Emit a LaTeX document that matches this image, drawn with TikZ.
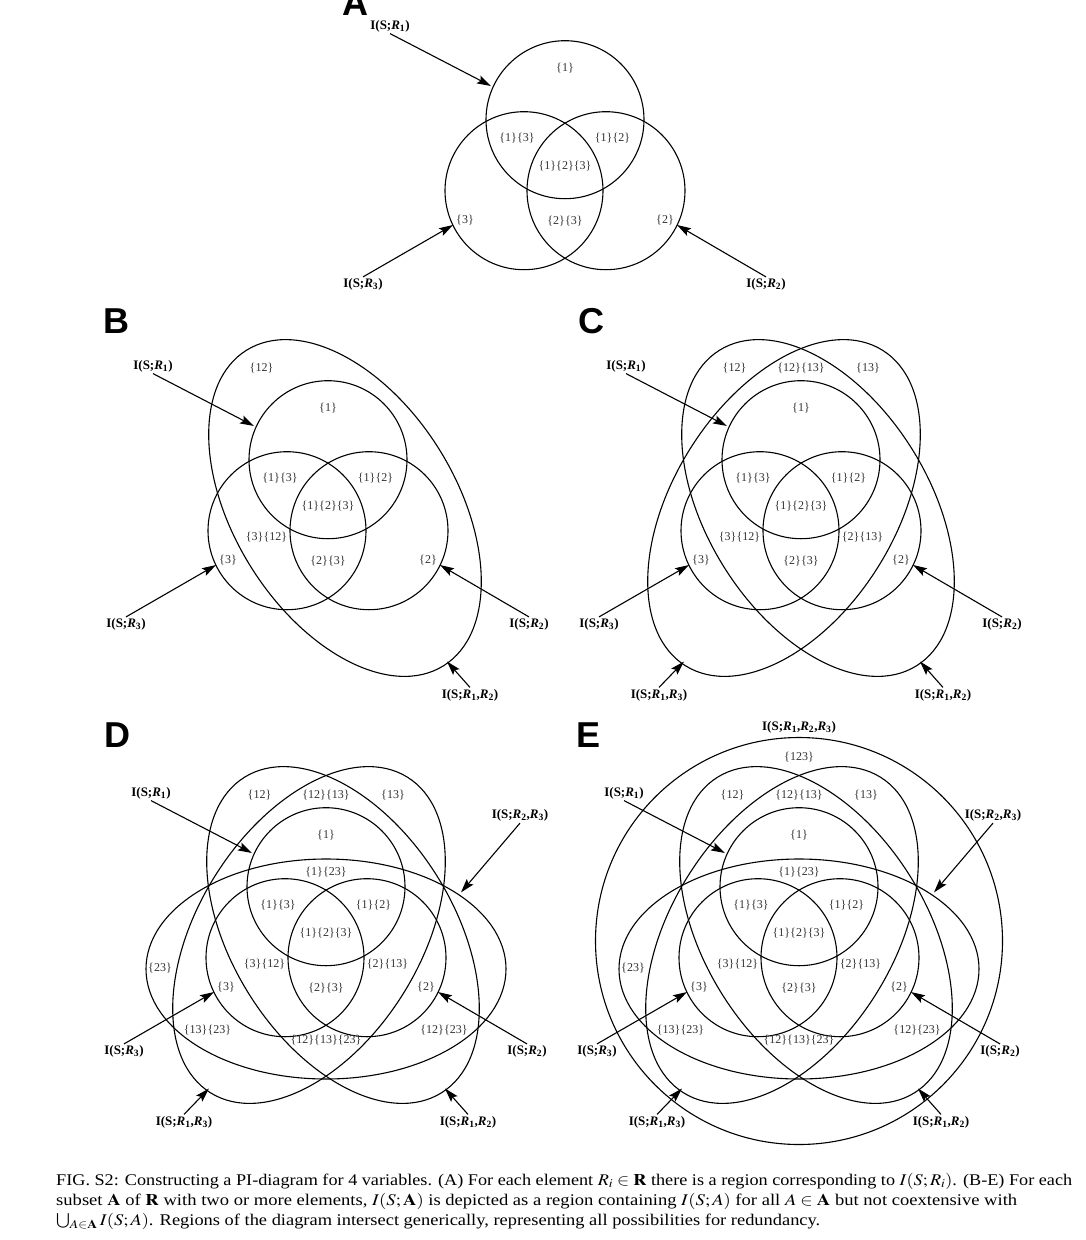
\documentclass[tikz,border=0pt]{standalone}
\usepackage{mathptmx}
\usepackage{fontspec}
\setmainfont{Liberation Serif}
\newfontfamily\panelfont{Liberation Sans}
\usetikzlibrary{arrows.meta,calc}

\newcommand{\Rb}[1]{\textit{R}\textsubscript{#1}}
\newcommand{\pidcircles}{%
 \draw[venn] (0,-47.3) circle[radius=79pt];
 \draw[venn] (-41,23.7) circle[radius=79pt];
 \draw[venn] (41,23.7) circle[radius=79pt];}
\newcommand{\pidelltwelve}{\begin{scope}[shift={(17,1)},rotate=-58]\draw[venn] (0,0) ellipse[x radius=186pt,y radius=111pt];\end{scope}}
\newcommand{\pidellthirteen}{\begin{scope}[shift={(-17,1)},rotate=58]\draw[venn] (0,0) ellipse[x radius=186pt,y radius=111pt];\end{scope}}
\newcommand{\pidelltwothree}{\draw[venn] (0,35) ellipse[x radius=180pt,y radius=110pt];}
\newcommand{\pidbig}{\draw[venn] (0,7) circle[radius=203.5pt];}
\newcommand{\pidbasic}[1]{%
 \node[reg] (#1-r1) at (0,-99) {\{1\}};
 \node[reg] (#1-r13) at (-48,-28.5) {\{1\}\{3\}};
 \node[reg] (#1-r12) at (47.5,-28.5) {\{1\}\{2\}};
 \node[reg] (#1-r123) at (0,-0.5) {\{1\}\{2\}\{3\}};
 \node[reg] (#1-r3) at (-100,53.5) {\{3\}};
 \node[reg] (#1-r23) at (0,54.5) {\{2\}\{3\}};
 \node[reg] (#1-r2) at (100,53.5) {\{2\}};}
\newcommand{\pidarrows}[1]{%
 \node[lab] (#1-l1) at (-175,-141) {I(S;\Rb{1})};
 \coordinate (#1-t1) at (-74,-81);
 \draw[arr] (#1-l1.south) -- (#1-t1);
 \node[lab] (#1-l3) at (-202,117.5) {I(S;\Rb{3})};
 \coordinate (#1-t3) at (-112,58);
 \draw[arr] (#1-l3.north) -- (#1-t3);
 \node[lab] (#1-l2) at (201,117.5) {I(S;\Rb{2})};
 \coordinate (#1-t2) at (112,58);
 \draw[arr] (#1-l2.north) -- (#1-t2);}
\newcommand{\pidarrowtwelve}[1]{%
 \node[lab] (#1-l12) at (142,188) {I(S;\Rb{1},\Rb{2})};
 \coordinate (#1-t12) at (119,154.5);
 \draw[arr] (#1-l12.north) -- (#1-t12);}
\newcommand{\pidarrowthirteen}[1]{%
 \node[lab] (#1-l13) at (-142,188) {I(S;\Rb{1},\Rb{3})};
 \coordinate (#1-t13) at (-117,154.5);
 \draw[arr] (#1-l13.north) -- (#1-t13);}
\newcommand{\pidarrowtwothree}[1]{%
 \node[lab] (#1-l23) at (194,-118.5) {I(S;\Rb{2},\Rb{3})};
 \coordinate (#1-t23) at (135,-41.6);
 \draw[arr] (#1-l23.south) -- (#1-t23);}

\begin{document}
\begin{tikzpicture}[x=1pt,y=-1pt,
  venn/.style={line width=1.1pt},
  reg/.style={font=\fontsize{12}{13}\selectfont, text=black!80, inner sep=0pt},
  lab/.style={font=\fontsize{13}{14}\selectfont\bfseries, inner sep=1.5pt},
  arr/.style={line width=1.1pt, -{Stealth[length=14pt,width=8.5pt,inset=2.5pt]}},
  plet/.style={font=\panelfont\fontsize{36}{36}\selectfont\bfseries, inner sep=0pt, anchor=base},
  capt/.style={font=\fontsize{16.3}{20}\selectfont, inner sep=0pt, anchor=base west}]
\useasboundingbox (0,0) rectangle (1085,1240);
\fill[white] (0,0) rectangle (1085,1240);

% panel letters
\node[plet] (pA) at (355,15.5) {A};
\node[plet] (pB) at (116.5,333) {B};
\node[plet] (pC) at (591,333) {C};
\node[plet] (pD) at (117,747) {D};
\node[plet] (pE) at (588,747) {E};

% Panel A
\begin{scope}[shift={(565,167)}]
 \pidcircles
 \pidbasic{a}
 \pidarrows{a}
\end{scope}

% Panel B
\begin{scope}[shift={(328,507)}]
 \pidcircles
 \pidelltwelve
 \pidbasic{b}
 \node[reg] (b-s12) at (-66.5,-138.5) {\{12\}};
 \node[reg] (b-s312) at (-61.5,30.5) {\{3\}\{12\}};
 \pidarrows{b}
 \pidarrowtwelve{b}
\end{scope}

% Panel C
\begin{scope}[shift={(801,507)}]
 \pidcircles
 \pidelltwelve
 \pidellthirteen
 \pidbasic{c}
 \node[reg] (c-s12) at (-66.5,-138.5) {\{12\}};
 \node[reg] (c-s1213) at (0,-138.5) {\{12\}\{13\}};
 \node[reg] (c-s13) at (67,-138.5) {\{13\}};
 \node[reg] (c-s312) at (-61.5,30.5) {\{3\}\{12\}};
 \node[reg] (c-s213) at (61.5,30.5) {\{2\}\{13\}};
 \pidarrows{c}
 \pidarrowtwelve{c}
 \pidarrowthirteen{c}
\end{scope}

% Panel D
\begin{scope}[shift={(326,934)}]
 \pidcircles
 \pidelltwelve
 \pidellthirteen
 \pidelltwothree
 \pidbasic{d}
 \node[reg] (d-s12) at (-66.5,-138.5) {\{12\}};
 \node[reg] (d-s1213) at (0,-138.5) {\{12\}\{13\}};
 \node[reg] (d-s13) at (67,-138.5) {\{13\}};
 \node[reg] (d-s312) at (-61.5,30.5) {\{3\}\{12\}};
 \node[reg] (d-s213) at (61.5,30.5) {\{2\}\{13\}};
 \node[reg] (d-s123) at (0,-62) {\{1\}\{23\}};
 \node[reg] (d-s23) at (-166,34) {\{23\}};
 \node[reg] (d-s1323) at (-118.5,96.5) {\{13\}\{23\}};
 \node[reg] (d-s1223) at (118,96.5) {\{12\}\{23\}};
 \node[reg] (d-s121323) at (0,106.5) {\{12\}\{13\}\{23\}};
 \pidarrows{d}
 \pidarrowtwelve{d}
 \pidarrowthirteen{d}
 \pidarrowtwothree{d}
\end{scope}

% Panel E
\begin{scope}[shift={(799,934)}]
 \pidcircles
 \pidelltwelve
 \pidellthirteen
 \pidelltwothree
 \pidbig
 \pidbasic{e}
 \node[reg] (e-s12) at (-66.5,-138.5) {\{12\}};
 \node[reg] (e-s1213) at (0,-138.5) {\{12\}\{13\}};
 \node[reg] (e-s13) at (67,-138.5) {\{13\}};
 \node[reg] (e-s312) at (-61.5,30.5) {\{3\}\{12\}};
 \node[reg] (e-s213) at (61.5,30.5) {\{2\}\{13\}};
 \node[reg] (e-s123) at (0,-62) {\{1\}\{23\}};
 \node[reg] (e-s23) at (-166,34) {\{23\}};
 \node[reg] (e-s1323) at (-118.5,96.5) {\{13\}\{23\}};
 \node[reg] (e-s1223) at (118,96.5) {\{12\}\{23\}};
 \node[reg] (e-s121323) at (0,106.5) {\{12\}\{13\}\{23\}};
 \node[reg] (e-sall) at (0,-177) {\{123\}};
 \node[lab] (e-lall) at (0,-207) {I(S;\Rb{1},\Rb{2},\Rb{3})};
 \pidarrows{e}
 \pidarrowtwelve{e}
 \pidarrowthirteen{e}
 \pidarrowtwothree{e}
\end{scope}

% caption
\node[capt] (cap1) at (56,1185) {\resizebox{1016pt}{\height}{FIG. S2: Constructing a PI-diagram for 4 variables. (A) For each element $R_i \in \mathbf{R}$ there is a region corresponding to $I(S;R_i)$. (B-E) For each}};
\node[capt] (cap2) at (56,1205) {\resizebox{961pt}{\height}{subset $\mathbf{A}$ of $\mathbf{R}$ with two or more elements, $I(S;\mathbf{A})$ is depicted as a region containing $I(S;A)$ for all $A\in\mathbf{A}$ but not coextensive with}};
\node[capt] (cap3) at (56,1225) {\resizebox{764pt}{\height}{$\bigcup_{A\in\mathbf{A}} I(S;A)$. Regions of the diagram intersect generically, representing all possibilities for redundancy.}};
\end{tikzpicture}
\end{document}
